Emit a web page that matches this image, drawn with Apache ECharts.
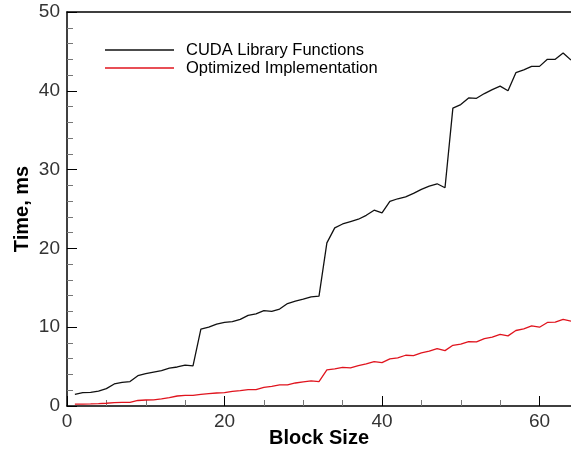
<!DOCTYPE html>
<html>
<head>
<meta charset="utf-8">
<script src="https://cdn.jsdelivr.net/npm/echarts@6/dist/echarts.min.js"></script>
<style>
html,body{margin:0;padding:0;background:#fff;}
#chart{width:571px;height:452px;}
</style>
</head>
<body>
<div id="chart"></div>
<script>
// Block sizes 1..64
var blockSizes = [1,2,3,4,5,6,7,8,9,10,11,12,13,14,15,16,17,18,19,20,21,22,23,24,25,26,27,28,29,30,31,32,
  33,34,35,36,37,38,39,40,41,42,43,44,45,46,47,48,49,50,51,52,53,54,55,56,57,58,59,60,61,62,63,64];

var cudaLibrary = [1.48,1.7,1.74,1.9,2.2,2.8,3.0,3.1,3.85,4.1,4.3,4.5,4.8,4.95,5.2,5.1,
  9.75,10.0,10.4,10.6,10.7,11.0,11.5,11.7,12.1,12.0,12.3,13.0,13.3,13.55,13.85,13.95,
  20.7,22.6,23.1,23.4,23.7,24.2,24.85,24.5,25.96,26.3,26.55,26.98,27.5,27.9,28.2,27.7,
  37.8,38.25,39.1,39.05,39.65,40.15,40.6,40.0,42.3,42.65,43.1,43.1,44.0,44.0,44.8,43.9];

var optimized = [0.25,0.25,0.27,0.3,0.35,0.42,0.47,0.47,0.7,0.76,0.78,0.9,1.05,1.27,1.35,1.35,
  1.48,1.57,1.65,1.7,1.86,1.95,2.08,2.08,2.37,2.5,2.67,2.67,2.92,3.05,3.18,3.1,
  4.58,4.7,4.9,4.83,5.13,5.34,5.64,5.5,5.97,6.1,6.44,6.4,6.74,6.95,7.29,7.03,
  7.7,7.84,8.18,8.14,8.56,8.73,9.1,8.9,9.58,9.8,10.17,10.0,10.6,10.64,11.0,10.76];

var seriesNames = ['CUDA Library Functions', 'Optimized Implementation'];
var xTicks = [0, 20, 40, 60];
var yTicks = [0, 10, 20, 30, 40, 50];

function pairs(xs, ys) { return xs.map(function (x, i) { return [x, ys[i]]; }); }

var chart = echarts.init(document.getElementById('chart'), null, {renderer: 'canvas'});
var labelFont = {fontFamily: 'Liberation Sans', fontSize: 19, color: '#333'};
var nameFont = {fontFamily: 'Liberation Sans', fontSize: 20, fontWeight: 'bold', color: '#000'};
chart.setOption({
  animation: false,
  backgroundColor: '#fff',
  grid: {left: 67, top: 12, width: 504, height: 394, containLabel: false, outerBoundsMode: 'none'},
  legend: {
    orient: 'vertical', left: 105, top: 41, padding: 0,
    icon: 'rect', itemWidth: 69, itemHeight: 1.3, itemGap: 0,
    textStyle: {fontFamily: 'Liberation Sans', fontSize: 16.5, lineHeight: 18, color: '#000', padding: [0, 0, 0, 7]},
    data: seriesNames
  },
  xAxis: [{
    type: 'value', min: 0, max: 64, interval: 20,
    name: 'Block Size', nameLocation: 'middle', nameGap: 22, nameMoveOverlap: false,
    nameTextStyle: nameFont,
    axisLine: {show: true, lineStyle: {color: '#000', width: 1.5}},
    axisTick: {show: true, inside: true, length: 10, lineStyle: {color: '#000', width: 1}},
    minorTick: {show: true, splitNumber: 4, length: 6, lineStyle: {color: '#777', width: 1}},
    axisLabel: Object.assign({margin: 6, formatter: function (v) { return xTicks.indexOf(v) >= 0 ? String(v) : ''; }}, labelFont),
    splitLine: {show: false}
  }, {
    type: 'value', min: 0, max: 64, position: 'top',
    axisLine: {show: true, lineStyle: {color: '#000', width: 1.5}},
    axisTick: {show: false}, axisLabel: {show: false}, splitLine: {show: false}
  }],
  yAxis: {
    type: 'value', min: 0, max: 50, interval: 10,
    name: 'Time, ms', nameLocation: 'middle', nameGap: 35, nameMoveOverlap: false,
    nameTextStyle: nameFont,
    axisLine: {show: true, lineStyle: {color: '#000', width: 1.5}},
    axisTick: {show: true, inside: true, length: 10, lineStyle: {color: '#000', width: 1}},
    minorTick: {show: true, splitNumber: 5, length: 6, lineStyle: {color: '#777', width: 1}},
    axisLabel: Object.assign({margin: 7, formatter: function (v) { return yTicks.indexOf(v) >= 0 ? String(v) : ''; }}, labelFont),
    splitLine: {show: false}
  },
  series: [{
    name: seriesNames[0], type: 'line', symbol: 'none', showSymbol: false,
    data: pairs(blockSizes, cudaLibrary),
    lineStyle: {color: '#111', width: 1.3}, itemStyle: {color: '#111'}
  }, {
    name: seriesNames[1], type: 'line', symbol: 'none', showSymbol: false,
    data: pairs(blockSizes, optimized),
    lineStyle: {color: '#e0141e', width: 1.3}, itemStyle: {color: '#e0141e'}
  }]
});
</script>
</body>
</html>
